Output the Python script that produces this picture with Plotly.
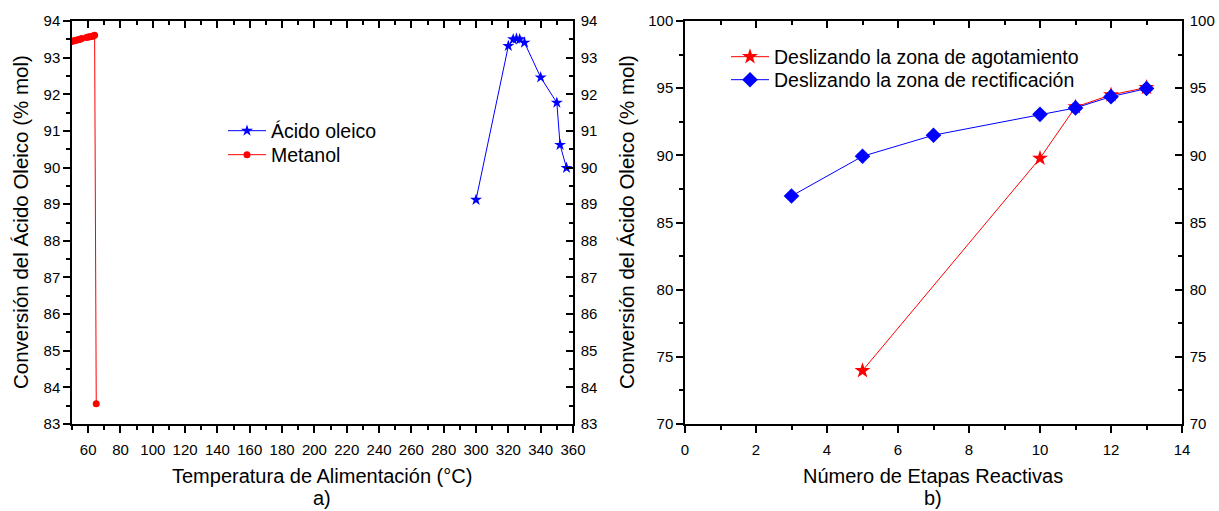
import plotly.graph_objects as go

# ---- Data: panel a) ----
temp_oleico = [300, 320, 323, 325, 327, 330, 340, 350, 352, 356]
conv_oleico = [89.12, 93.32, 93.50, 93.52, 93.50, 93.41, 92.46, 91.77, 90.62, 89.99]
temp_metanol = [50, 51, 52, 53, 54, 55, 56, 59, 60, 61, 62, 63, 64, 65]
conv_metanol = [93.44, 93.46, 93.47, 93.48, 93.49, 93.50, 93.52, 93.55, 93.56,
                93.57, 93.58, 93.59, 93.61, 83.55]

# ---- Data: panel b) ----
etapas_agot = [5, 10, 11, 12, 13]
conv_agot = [73.97, 89.78, 93.6, 94.5, 95.05]
etapas_rect = [3, 5, 7, 10, 11, 12, 13]
conv_rect = [86.97, 89.93, 91.5, 93.05, 93.53, 94.37, 94.97]

FONT = "Liberation Sans, Arial, sans-serif"
W, H = 1219, 511
xdomA = [72 / W, 573 / W]
xdomB = [685 / W, 1182 / W]
ydom = [1 - 424 / H, 1 - 21 / H]

fig = go.Figure()

fig.add_trace(go.Scatter(x=temp_oleico, y=conv_oleico, mode="lines+markers",
                         name="Ácido oleico", line=dict(color="#0000ff", width=1),
                         marker=dict(symbol="star", size=9, color="#0000ff"),
                         xaxis="x", yaxis="y", legend="legend"))
fig.add_trace(go.Scatter(x=temp_metanol, y=conv_metanol, mode="lines+markers",
                         name="Metanol", line=dict(color="#ff0000", width=1),
                         marker=dict(symbol="circle", size=7, color="#ff0000"),
                         xaxis="x", yaxis="y", legend="legend2"))

fig.add_trace(go.Scatter(x=etapas_agot, y=conv_agot, mode="lines+markers",
                         name="Deslizando la zona de agotamiento",
                         line=dict(color="#ff0000", width=1),
                         marker=dict(symbol="star", size=12, color="#ff0000"),
                         xaxis="x3", yaxis="y3", legend="legend3"))
fig.add_trace(go.Scatter(x=etapas_rect, y=conv_rect, mode="lines+markers",
                         name="Deslizando la zona de rectificación",
                         line=dict(color="#0000ff", width=1),
                         marker=dict(symbol="diamond", size=12, color="#0000ff"),
                         xaxis="x3", yaxis="y3", legend="legend4"))

# empty traces to guarantee mirrored axes are drawn
fig.add_trace(go.Scatter(x=[], y=[], xaxis="x2", yaxis="y2", showlegend=False, hoverinfo="skip"))
fig.add_trace(go.Scatter(x=[], y=[], xaxis="x4", yaxis="y4", showlegend=False, hoverinfo="skip"))

tickfont = dict(family=FONT, size=15, color="black")
common = dict(showgrid=False, zeroline=False, showline=True, linecolor="black",
              linewidth=1.5, tickcolor="black", tickwidth=1.5, ticklen=7,
              tickfont=tickfont, automargin=False)

xA = dict(range=[50, 360], tickmode="linear", tick0=60, dtick=20)
yA = dict(range=[83, 94], tickmode="linear", tick0=83, dtick=1)
xB = dict(range=[0, 14], tickmode="linear", tick0=0, dtick=2)
yB = dict(range=[70, 100], tickmode="linear", tick0=70, dtick=5)

def minor(d, side):
    return dict(ticks=side, ticklen=4, tickwidth=1.5, tickcolor="black", dtick=d)

leg_font = dict(family=FONT, size=19.5, color="black")

def leg(xpx, ypx):
    return dict(x=xpx / W, y=1 - ypx / H, xanchor="left", yanchor="middle",
                bgcolor="rgba(0,0,0,0)", font=leg_font, itemwidth=38,
                borderwidth=0, tracegroupgap=0)

fig.update_layout(
    template="none",
    width=W, height=H, autosize=False,
    margin=dict(l=0, r=0, t=0, b=0, autoexpand=False),
    paper_bgcolor="white", plot_bgcolor="white",
    font=dict(family=FONT, color="black"),
    xaxis=dict(domain=xdomA, anchor="y", ticks="outside", ticklabelstandoff=4,
               minor=minor(10, "outside"), **xA, **common),
    xaxis2=dict(domain=xdomA, anchor="y", overlaying="x", side="top", ticks="inside",
                showticklabels=False, minor=minor(10, "inside"), **xA, **common),
    yaxis=dict(domain=ydom, anchor="x", ticks="outside",
               minor=minor(0.5, "outside"), **yA, **common),
    yaxis2=dict(domain=ydom, anchor="x", overlaying="y", side="right", ticks="inside",
                ticklabelstandoff=3, minor=minor(0.5, "inside"), **yA, **common),
    xaxis3=dict(domain=xdomB, anchor="y3", ticks="outside", ticklabelstandoff=4,
                minor=minor(1, "outside"), **xB, **common),
    xaxis4=dict(domain=xdomB, anchor="y3", overlaying="x3", side="top", ticks="inside",
                showticklabels=False, minor=minor(1, "inside"), **xB, **common),
    yaxis3=dict(domain=ydom, anchor="x3", ticks="outside",
                minor=minor(2.5, "outside"), **yB, **common),
    yaxis4=dict(domain=ydom, anchor="x3", overlaying="y3", side="right", ticks="inside",
                ticklabelstandoff=3, minor=minor(2.5, "inside"), **yB, **common),
    legend=leg(223, 131),
    legend2=leg(223, 155),
    legend3=leg(726, 57),
    legend4=leg(726, 80),
    showlegend=True,
)

ann_font = dict(family=FONT, size=20, color="black")
def ann(text, xpx, ypx, angle=0, size=20):
    fig.add_annotation(text=text, x=xpx / W, y=1 - ypx / H, xref="paper", yref="paper",
                       xanchor="center", yanchor="middle", textangle=angle,
                       showarrow=False, font=dict(family=FONT, size=size, color="black"))

ann("Temperatura de Alimentación (°C)", 322, 476)
ann("a)", 322, 498)
ann("Número de Etapas Reactivas", 933, 476)
ann("b)", 933, 498)
ann("Conversión del Ácido Oleico (% mol)", 20, 222, -90, 20.5)
ann("Conversión del Ácido Oleico (% mol)", 626, 222, -90, 20.5)

fig.write_html("out.html")
